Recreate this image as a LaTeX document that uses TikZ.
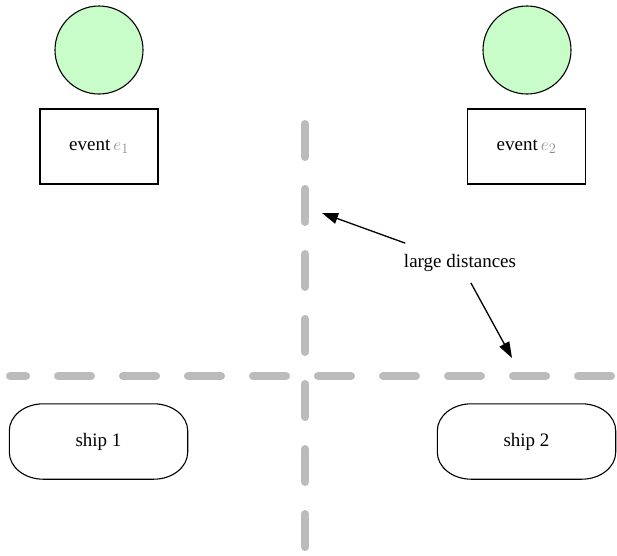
\documentclass[tikz,border=0pt]{standalone}
\usepackage{fontspec}
\setmainfont{Liberation Serif}
\usetikzlibrary{arrows.meta}
\definecolor{nodegreen}{RGB}{200,252,200}
\definecolor{divider}{RGB}{187,187,187}
\begin{document}
\begin{tikzpicture}[x=1pt,y=-1pt,
  every node/.style={font=\fontsize{19}{23}\selectfont},
  dot/.style={circle,draw=black,line width=1.1pt,fill=nodegreen,minimum size=88pt,inner sep=0pt},
  eventbox/.style={rectangle,draw=black,line width=1.1pt,minimum width=118pt,minimum height=75pt,inner sep=0pt},
  shipbox/.style={rectangle,minimum width=178pt,minimum height=75pt,inner sep=0pt},
  outline/.style={draw=black,line width=1.1pt},
  gap/.style={draw=divider,line width=8pt,line cap=round,dash pattern=on 33pt off 32pt},
  arr/.style={draw=black,line width=1.3pt,-{Triangle[length=16pt,width=11pt]}}]
  \useasboundingbox (0,0) rectangle (617,555);

  % dividing lines
  \draw[gap] (305,124) -- (305,549);
  \draw[gap,dash phase=17pt] (10,376) -- (640,376);

  % events
  \node[dot] (c1) at (99,50) {};
  \node[dot] (c2) at (527,50) {};
  \node[eventbox] (e1) at (99,146.5) {event\,\textcolor{black!45}{$e_1$}};
  \node[eventbox] (e2) at (526.5,146.5) {event\,\textcolor{black!45}{$e_2$}};

  % ships: boxes with elliptic corners
  \node[shipbox] (s1) at (98.5,441.5) {ship 1};
  \node[shipbox] (s2) at (526.5,441.5) {ship 2};
  \foreach \s in {s1,s2}
    \draw[outline] ([xshift=34pt]\s.north west) -- ([xshift=-34pt]\s.north east)
      arc[start angle=90,end angle=0,x radius=34pt,y radius=27pt]
      -- ([yshift=27pt]\s.south east)
      arc[start angle=0,end angle=-90,x radius=34pt,y radius=27pt]
      -- ([xshift=34pt]\s.south west)
      arc[start angle=270,end angle=180,x radius=34pt,y radius=27pt]
      -- ([yshift=-27pt]\s.north west)
      arc[start angle=180,end angle=90,x radius=34pt,y radius=27pt] -- cycle;

  % label with arrows
  \node[inner xsep=2pt,inner ysep=11pt] (lbl) at (460,263) {large distances};
  \coordinate (t1) at (322,213);
  \coordinate (t2) at (512,358);
  \draw[arr] (lbl) -- (t1);
  \draw[arr] (lbl) -- (t2);
\end{tikzpicture}
\end{document}
